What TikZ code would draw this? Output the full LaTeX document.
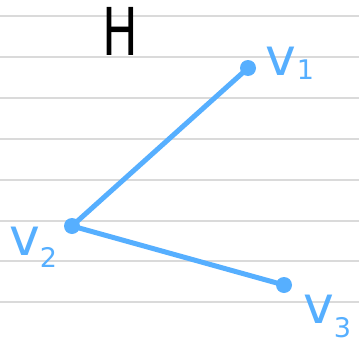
\documentclass[tikz,border=0pt]{standalone}
\usepackage{fontspec}
\setmainfont{DejaVu Sans}
\definecolor{inkblue}{RGB}{86,175,255}
\definecolor{rule}{RGB}{218,218,218}
\newcommand{\subdig}[3]{\hspace{#1}\raisebox{#2}{\fontsize{27}{27}\selectfont #3}}
\tikzset{
  dot/.style={circle,fill=inkblue,inner sep=0pt,minimum size=16pt},
  edge/.style={draw=inkblue,line width=5pt},
  vlab/.style={text=inkblue,inner sep=0pt,anchor=base west,font=\fontsize{52}{52}\selectfont},
  ruleline/.style={draw=rule,line width=1.5pt}
}
\begin{document}
\begin{tikzpicture}[x=1pt,y=-1pt]
\useasboundingbox (0,0) rectangle (359,343);
\fill[white] (0,0) rectangle (359,343);
\foreach \yy in {16,57,98,139,180,221,261,302}
  \draw[ruleline] (0,\yy) -- (359,\yy);
\node[text=black,inner sep=0pt,font=\fontsize{66}{66}\selectfont,xscale=0.72] (H) at (120,31) {H};
\node[dot] (v1) at (248,68) {};
\node[dot] (v2) at (72,226) {};
\node[dot] (v3) at (284,285) {};
\draw[edge] (v1.center) -- (v2.center);
\draw[edge] (v2.center) -- (v3.center);
\node[vlab] (l1) at (265,75) {v\subdig{1pt}{-4pt}{1}};
\node[vlab] (l2) at (9,255) {v\subdig{0pt}{-12pt}{2}};
\node[vlab] (l3) at (303,323) {v\subdig{0pt}{-14pt}{3}};
\end{tikzpicture}
\end{document}
